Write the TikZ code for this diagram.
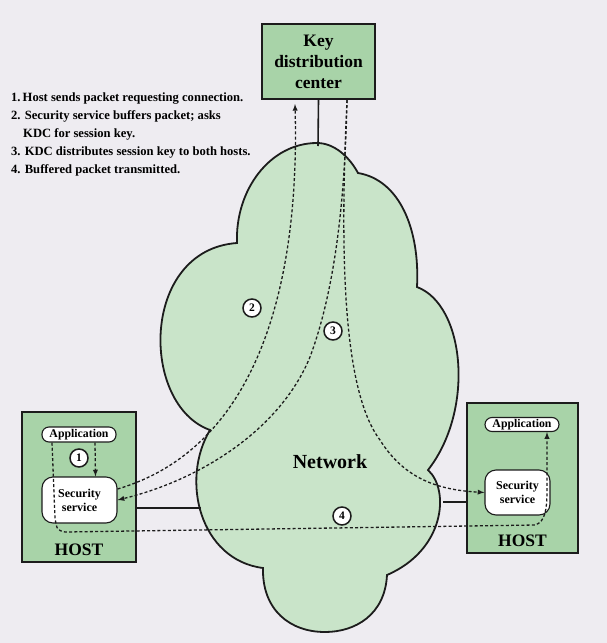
\documentclass[tikz,border=0pt]{standalone}
\usepackage{fontspec}
\setmainfont{Liberation Serif}
\usepackage{tikz}
\usepackage{xcolor}
\tikzset{>=latex}
\usetikzlibrary{positioning}

\definecolor{paper}{RGB}{238,236,241}
\definecolor{netgreen}{RGB}{201,228,201}
\definecolor{boxgreen}{RGB}{168,211,168}
\definecolor{ink}{RGB}{28,28,28}

\tikzset{
  hostbox/.style={draw=ink, line width=2pt, fill=boxgreen, inner sep=0pt},
  appbox/.style={draw=ink, line width=1.1pt, fill=white, rounded corners=7pt,
    minimum width=74pt, minimum height=15pt, inner sep=0pt, font=\fontsize{11.8}{12}\bfseries},
  secbox/.style={draw=ink, line width=1.1pt, fill=white, rounded corners=11pt,
    inner sep=0pt, align=center, font=\fontsize{12}{14}\bfseries},
  hostlabel/.style={inner sep=0pt, font=\fontsize{17.5}{18}\bfseries},
  numcirc/.style={circle, draw=ink, line width=1.5pt, fill=white, minimum size=18pt,
    inner sep=0pt, font=\fontsize{11.5}{11}\bfseries},
  link/.style={draw=ink, line width=1.6pt},
  flow/.style={draw=ink, line width=1.3pt, dash pattern=on 3pt off 2.2pt}
}

\begin{document}
\begin{tikzpicture}[x=1pt,y=-1pt]
        % paper
        \fill[paper] (0,0) rectangle (607,643);
        \useasboundingbox (0,0) rectangle (607,643);

        % network cloud
        \path[fill=netgreen, draw=ink, line width=1.8pt]
          (237,243) .. controls (235,190) and (270,143) .. (317,143)
          .. controls (335,143) and (350,158) .. (358,173)
          .. controls (400,180) and (420,230) .. (417,287)
          .. controls (465,305) and (475,410) .. (428,470)
          .. controls (450,490) and (445,550) .. (387,575)
          .. controls (385,615) and (355,632) .. (325,632)
          .. controls (290,632) and (262,610) .. (263,568)
          .. controls (200,560) and (180,480) .. (210,430)
          .. controls (140,405) and (140,250) .. (237,243) -- cycle;
        \node[inner sep=0pt, font=\fontsize{20}{20}\bfseries] (net) at (330,462) {Network};
        \coordinate (cloudT) at (318,146);
        \coordinate (cloudL) at (201,508);
        \coordinate (cloudR) at (443,502);

        % key distribution center
        \node[hostbox, minimum width=113pt, minimum height=75pt, align=center,
          font=\fontsize{17.5}{21}\bfseries] (kdc) at (318.5,61.5)
          {Key\\distribution\\center};

        % hosts
        \node[hostbox, minimum width=114pt, minimum height=150pt] (leftHost) at (79,487) {};
        \node[hostbox, minimum width=111pt, minimum height=150pt] (rightHost) at (522.5,478) {};
        \node[hostlabel, above=7pt of leftHost.south] (hostL) {HOST};
        \node[hostlabel, above=7pt of rightHost.south] (hostR) {HOST};
        \node[appbox] (appL) at (79,434.5) {Application};
        \node[appbox, minimum height=14pt] (appR) at (522,424.5) {Application};
        \node[secbox, minimum width=75pt, minimum height=46pt] (secL) at (79.5,500) {Security\\service};
        \node[secbox, minimum width=65pt, minimum height=45pt] (secR) at (517.5,492.5) {Security\\service};

        % wires
        \draw[link] (kdc.south) -- (cloudT);
        \draw[link] (leftHost.east |- cloudL) -- (cloudL);
        \draw[link] (cloudR) -- (rightHost.west |- cloudR);

        % steps
        \draw[flow, ->] ([xshift=16pt]appL.south) -- ([xshift=16pt]secL.north);
        \draw[flow, ->] ([yshift=11pt]secL.east) .. controls (250,450) and (300,300) .. ([xshift=-23.5pt,yshift=-4pt]kdc.south);
        \draw[flow, ->] ([xshift=28.5pt]kdc.south) .. controls (345,200) and (335,290) .. (310,357)
          .. controls (280,430) and (200,480) .. (secL.east);
        \draw[flow, ->] ([xshift=28.5pt]kdc.south) .. controls (340,250) and (342,390) .. (380,440)
          .. controls (405,480) and (440,490) .. (secR.west);
        \draw[flow, ->] ([xshift=-27pt]appL.south) -- (55,518) .. controls (57,530) .. (65,532)
          -- (535,525) .. controls (545,522) and (547,510) .. (547,490) -- ([xshift=25pt]appR.south);

        \node[numcirc] (n1) at (79,458) {1};
        \node[numcirc] (n2) at (252,308) {2};
        \node[numcirc] (n3) at (333,331) {3};
        \node[numcirc] (n4) at (342,516) {4};

        % legend
        \node[anchor=north west, align=left, inner sep=0pt, font=\fontsize{12.6}{18}\bfseries] (steps) at (11,93)
          {1.\,Host sends packet requesting connection.\\
           2. Security service buffers packet; asks\\
           \hspace{12pt}KDC for session key.\\
           3. KDC distributes session key to both hosts.\\
           4. Buffered packet transmitted.};
      \end{tikzpicture}
\end{document}
